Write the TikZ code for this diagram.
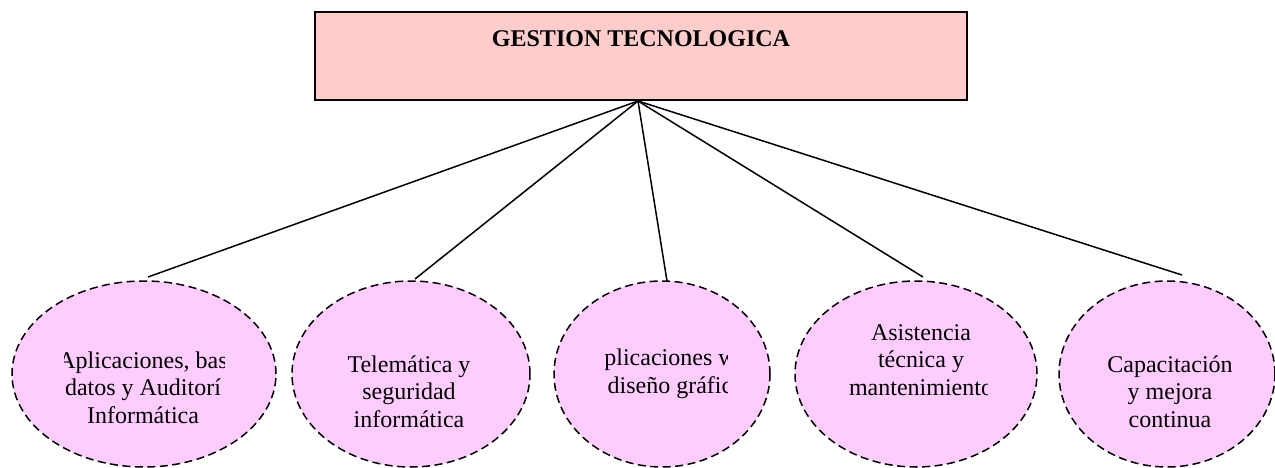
\documentclass[tikz,border=0pt]{standalone}
\usepackage{fontspec}
\setmainfont{Liberation Serif}
\usetikzlibrary{shapes.geometric}
\definecolor{boxpink}{RGB}{255,204,204}
\definecolor{areapink}{RGB}{255,204,255}

\begin{document}
\begin{tikzpicture}[x=1pt,y=-1pt,
  gtbox/.style={draw,line width=2pt,fill=boxpink,minimum width=652pt,minimum height=88pt,inner sep=0pt},
  area/.style={ellipse,draw,line width=1.5pt,dash pattern=on 8pt off 4.5pt,fill=areapink,inner sep=0pt},
  lbl/.style={align=center,inner sep=0pt,anchor=base,font=\fontsize{24}{27.5}\selectfont},
  link/.style={line width=1.5pt}]
  \useasboundingbox (0,0) rectangle (1275,468);
  % top box
  \node[gtbox] (gt) at (641,56) {};
  \node[lbl,font=\fontsize{24}{27.5}\selectfont\bfseries] (gtlabel) at (641,47) {GESTION TECNOLOGICA};
  \coordinate (apex) at ([xshift=-3pt]gt.south);
  % areas
  \node[area,minimum width=264pt,minimum height=186pt] (e1) at (144,374) {};
  \node[area,minimum width=238pt,minimum height=186pt] (e2) at (411,374) {};
  \node[area,minimum width=216pt,minimum height=186pt] (e3) at (662,374) {};
  \node[area,minimum width=242pt,minimum height=186pt] (e4) at (916,374) {};
  \node[area,minimum width=216pt,minimum height=186pt] (e5) at (1167,374) {};
  % connector ends
  \coordinate (end1) at (148,277);
  \coordinate (end2) at (415,279);
  \coordinate (end3) at (667,281);
  \coordinate (end4) at (923,277);
  \coordinate (end5) at (1182,275);
  \foreach \i in {1,...,5}
    \draw[link] (apex) -- (end\i);
  % labels (base = last line)
  \begin{scope}
    \clip (64,300) rectangle (224,450);
    \node[lbl] (t1) at (143,423) {Aplicaciones, bas\\datos y Auditorí\\Informática};
  \end{scope}
  \node[lbl] (t2) at (409,427) {Telemática y\\seguridad\\informática};
  \begin{scope}
    \clip (590,300) rectangle (727,450);
    \node[lbl] (t3) at (670,393) {plicaciones w\\diseño gráfic};
  \end{scope}
  \begin{scope}
    \clip (830,300) rectangle (987,450);
    \node[lbl] (t4) at (921,395) {Asistencia\\técnica y\\mantenimiento};
  \end{scope}
  \node[lbl] (t5) at (1170,427) {Capacitación\\y mejora\\continua};
\end{tikzpicture}
\end{document}
